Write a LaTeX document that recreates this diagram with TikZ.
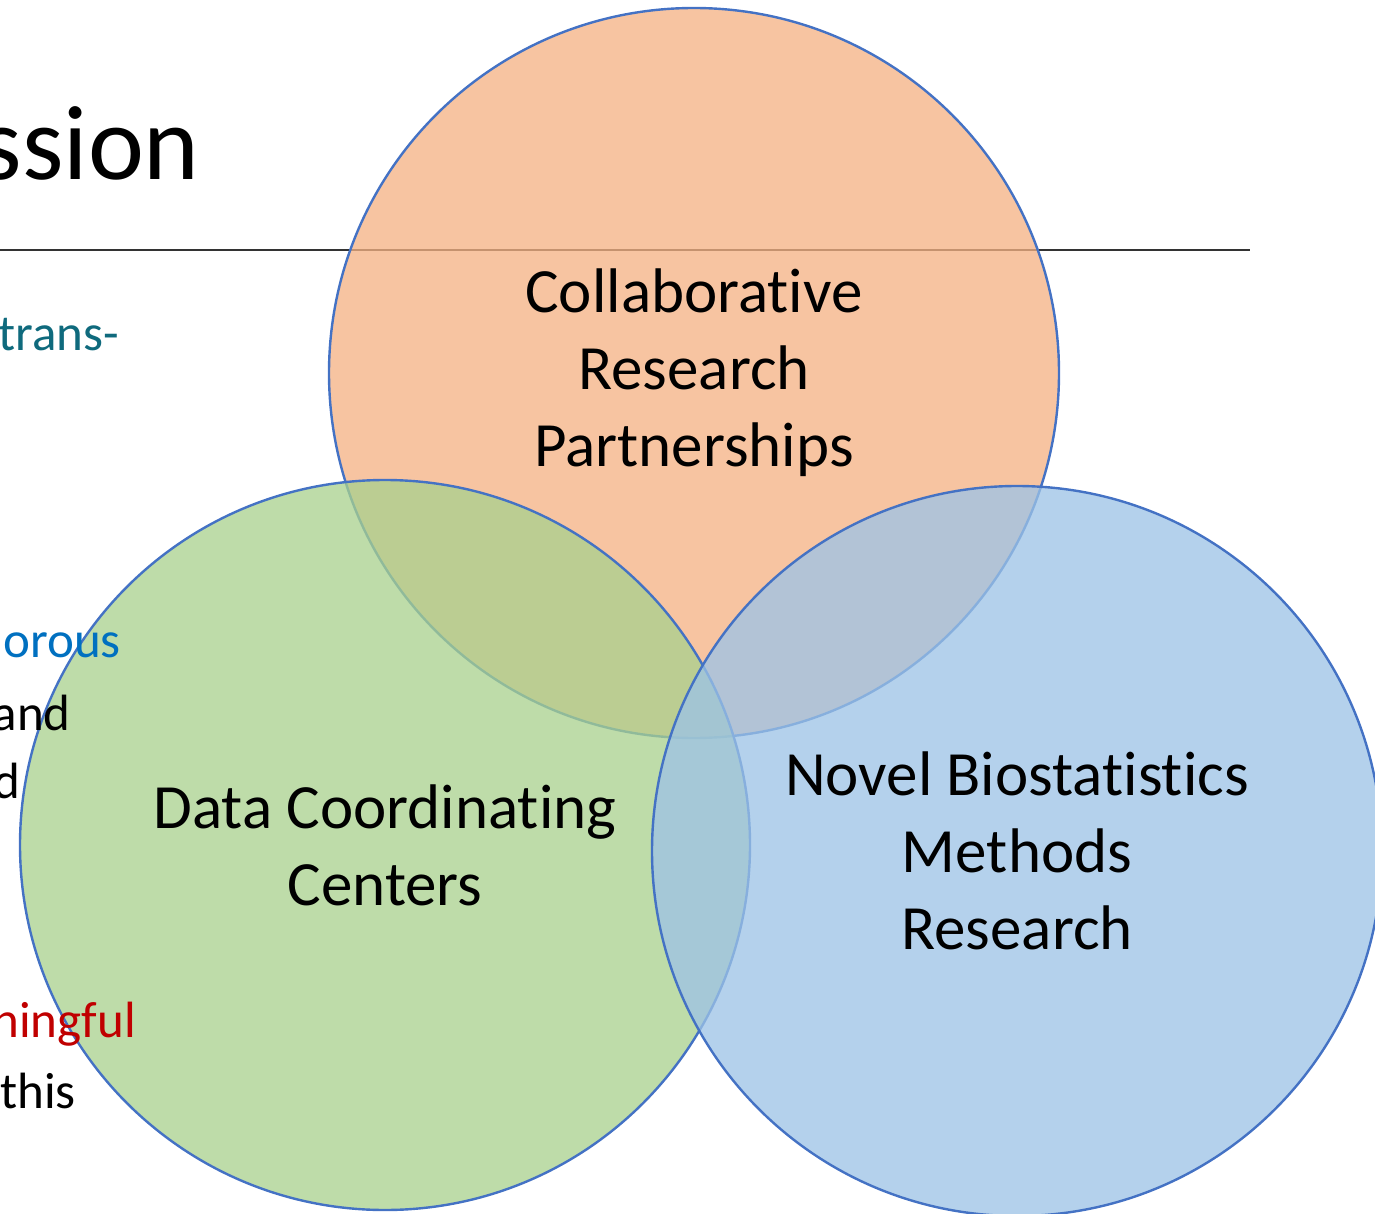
\documentclass[tikz,border=0pt]{standalone}
\usepackage{fontspec}
\setmainfont{Carlito}[Ligatures=NoCommon]
\definecolor{outl}{HTML}{4472C4}
\definecolor{orfill}{HTML}{F4B183}
\definecolor{grfill}{HTML}{A9D18E}
\definecolor{blfill}{HTML}{9DC3E6}
\definecolor{tealtxt}{HTML}{0F6A7D}
\definecolor{bluetxt}{HTML}{0070C0}
\definecolor{redtxt}{HTML}{C00000}
\tikzset{
  venn/.style={circle, draw=outl, line width=2.4pt, minimum size=730pt, inner sep=0pt,
    fill opacity=0.76, text opacity=1, align=center,
    font=\fontsize{63}{77}\selectfont},
  bgtext/.style={anchor=base east, inner sep=0pt, font=\fontsize{51}{60}\selectfont},
}
\begin{document}
\begin{tikzpicture}[x=1pt,y=-1pt]
\useasboundingbox (0,0) rectangle (1375,1214);
\coordinate (ls) at (0,250);
\coordinate (le) at (1250,250);
\draw[line width=1.2pt, color=black!80] (ls) -- (le);
\node[anchor=base east, inner sep=0pt, font=\fontsize{106}{120}\selectfont] (title) at (200,180) {ssion};
\node[venn, fill=orfill] (collab) at (694,373) {Collaborative\\Research\\Partnerships};
\node[venn, fill=grfill] (dcc) at (385,845) {Data Coordinating\\Centers};
\node[venn, fill=blfill] (novel) at (1017,851) {Novel Biostatistics\\Methods\\Research};
\node[bgtext, text=tealtxt] (t1) at (119,350) {trans-};
\node[bgtext, text=bluetxt] (t2) at (121,657) {orous};
\node[bgtext] (t3) at (71,730) {and};
\node[bgtext] (t4) at (20,798) {d};
\node[bgtext, text=redtxt] (t5) at (136,1037) {ningful};
\node[bgtext] (t6) at (76,1108) {this};
\end{tikzpicture}
\end{document}
